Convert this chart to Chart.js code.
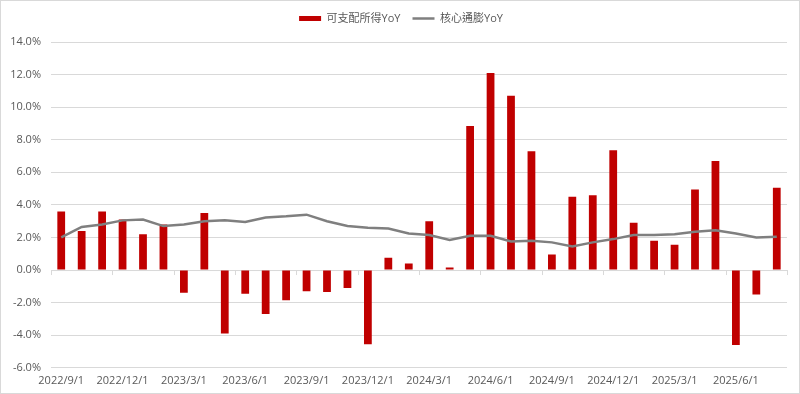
<!DOCTYPE html>
<html>
<head>
<meta charset="utf-8">
<script src="https://cdn.jsdelivr.net/npm/chart.js@4/dist/chart.umd.min.js"></script>
<style>
    html, body { margin: 0; padding: 0; background: #ffffff; }
    #wrap {
        width: 800px; height: 394px; box-sizing: border-box;
        border: 1px solid #d9d9d9; background: #ffffff;
    }
</style>
</head>
<body>
<div id="wrap"><canvas id="chart" width="798" height="392"></canvas></div>
<script>
// Monthly categories, 2022/9 .. 2025/8
const months = [
    '2022/9/1', '2022/10/1', '2022/11/1', '2022/12/1',
    '2023/1/1', '2023/2/1', '2023/3/1', '2023/4/1', '2023/5/1', '2023/6/1',
    '2023/7/1', '2023/8/1', '2023/9/1', '2023/10/1', '2023/11/1', '2023/12/1',
    '2024/1/1', '2024/2/1', '2024/3/1', '2024/4/1', '2024/5/1', '2024/6/1',
    '2024/7/1', '2024/8/1', '2024/9/1', '2024/10/1', '2024/11/1', '2024/12/1',
    '2025/1/1', '2025/2/1', '2025/3/1', '2025/4/1', '2025/5/1', '2025/6/1',
    '2025/7/1', '2025/8/1'
];

// 可支配所得YoY (%)
const incomeYoY = [
    3.6, 2.4, 3.6, 3.1,
    2.2, 2.8, -1.4, 3.5, -3.9, -1.45,
    -2.7, -1.85, -1.3, -1.35, -1.1, -4.55,
    0.75, 0.4, 3.0, 0.15, 8.85, 12.1,
    10.7, 7.3, 0.95, 4.5, 4.6, 7.35,
    2.9, 1.8, 1.55, 4.95, 6.7, -4.6,
    -1.5, 5.05
];

// 核心通膨YoY (%)
const coreCpiYoY = [
    2.0, 2.65, 2.8, 3.05,
    3.1, 2.7, 2.8, 3.0, 3.05, 2.95,
    3.23, 3.3, 3.4, 3.0, 2.7, 2.6,
    2.55, 2.25, 2.15, 1.85, 2.1, 2.1,
    1.75, 1.8, 1.7, 1.45, 1.7, 1.9,
    2.15, 2.15, 2.2, 2.35, 2.45, 2.25,
    2.0, 2.05
];

const textColor = '#595959';
const gridColor = '#d9d9d9';
const fontFamily = "'Open Sans', 'Noto Sans CJK TC', sans-serif";

// Zero axis line with small tick marks every 3 months (drawn under the bars)
const zeroAxis = {
    id: 'zeroAxis',
    beforeDatasetsDraw(chart) {
        const x = chart.scales.x;
        const y0 = chart.scales.y.getPixelForValue(0);
        const c = chart.ctx;
        c.save();
        c.strokeStyle = gridColor;
        c.lineWidth = 1;
        c.beginPath();
        c.moveTo(x.left, y0 + 0.5);
        c.lineTo(x.right, y0 + 0.5);
        for (let i = 0; i <= months.length; i += 3) {
            const px = Math.round(x.getPixelForValue(i - 0.5)) + 0.5;
            c.moveTo(px, y0);
            c.lineTo(px, y0 + 5);
        }
        c.stroke();
        c.restore();
    }
};

// Leave a little more room under the legend and centre it on the full canvas
const legendGap = {
    id: 'legendGap',
    beforeInit(chart) {
        const fit = chart.legend.fit;
        chart.legend.fit = function () {
            fit.call(this);
            this.height += 8;
        };
    },
    afterLayout(chart) {
        chart.legend.right += 14;
    }
};

new Chart(document.getElementById('chart').getContext('2d'), {
    type: 'bar',
    data: {
        labels: months,
        datasets: [
            {
                type: 'line',
                label: '核心通膨YoY',
                data: coreCpiYoY,
                borderColor: '#7f7f7f',
                backgroundColor: '#7f7f7f',
                borderWidth: 2.5,
                pointRadius: 0,
                pointStyle: 'line',
                tension: 0,
                order: 0
            },
            {
                type: 'bar',
                label: '可支配所得YoY',
                data: incomeYoY,
                backgroundColor: '#c00000',
                borderWidth: 0,
                pointStyle: 'rect',
                categoryPercentage: 1,
                barPercentage: 0.38,
                order: 1
            }
        ]
    },
    options: {
        responsive: false,
        animation: false,
        layout: { padding: { left: 0, right: 12, top: 0, bottom: 0 } },
        plugins: {
            legend: {
                position: 'top',
                reverse: true,
                labels: {
                    usePointStyle: true,
                    pointStyleWidth: 22,
                    boxHeight: 5,
                    padding: 12,
                    color: textColor,
                    font: { family: fontFamily, size: 11 }
                }
            },
            tooltip: { enabled: false }
        },
        scales: {
            x: {
                grid: { display: false, drawTicks: false },
                border: { display: false },
                ticks: {
                    autoSkip: false,
                    maxRotation: 0,
                    minRotation: 0,
                    padding: 6,
                    color: textColor,
                    font: { family: fontFamily, size: 11 },
                    callback: (v, i) => (i % 3 === 0 ? months[i] : '')
                }
            },
            y: {
                min: -6,
                max: 14,
                afterFit: (scale) => { scale.width = 50; },
                ticks: {
                    stepSize: 2,
                    padding: 10,
                    color: textColor,
                    font: { family: fontFamily, size: 11 },
                    callback: (v) => v.toFixed(1) + '%'
                },
                grid: { color: gridColor, drawTicks: false },
                border: { display: false }
            }
        }
    },
    plugins: [zeroAxis, legendGap]
});
</script>
</body>
</html>
